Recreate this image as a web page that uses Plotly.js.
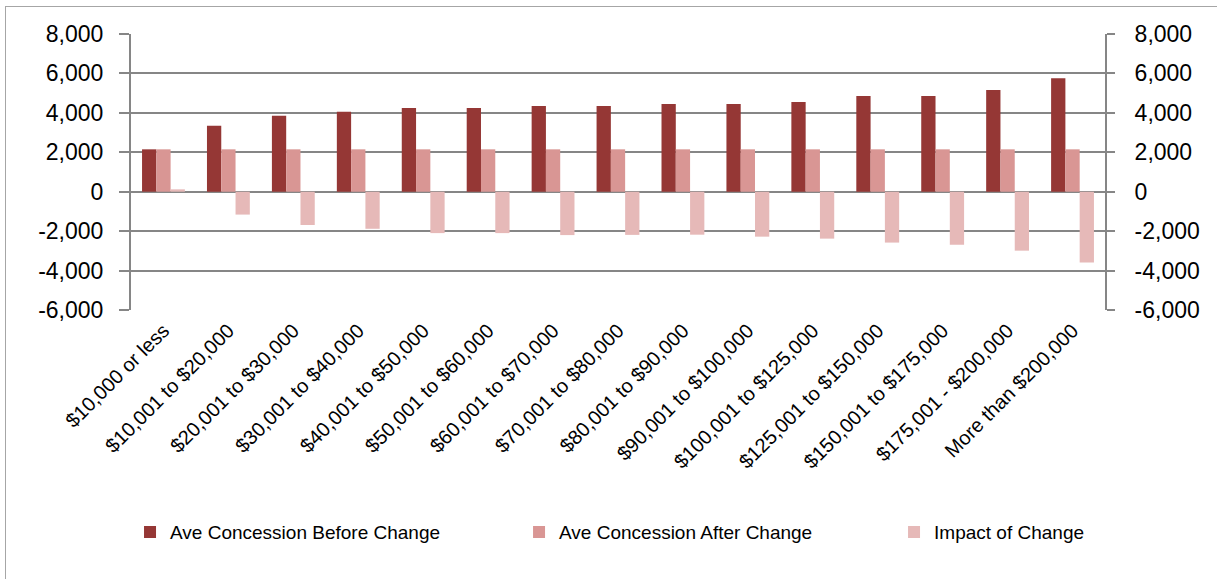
<!DOCTYPE html>
<html>
<head>
<meta charset="utf-8">
<script src="https://cdn.plot.ly/plotly-3.0.1.min.js"></script>
<style>
  html, body { margin: 0; padding: 0; background: #fff; }
  #wrap { position: relative; width: 1217px; height: 579px; overflow: hidden; }
  #chart { width: 1217px; height: 579px; }
  #frame { position: absolute; left: 5px; top: 6px; width: 1400px; height: 800px;
           border: 1.5px solid #a6a6a6; pointer-events: none; }
</style>
</head>
<body>
<div id="wrap">
  <div id="chart"></div>
  <div id="frame"></div>
</div>
<script>
const categories = [
  "$10,000 or less", "$10,001 to $20,000", "$20,001 to $30,000", "$30,001 to $40,000",
  "$40,001 to $50,000", "$50,001 to $60,000", "$60,001 to $70,000", "$70,001 to $80,000",
  "$80,001 to $90,000", "$90,001 to $100,000", "$100,001 to $125,000", "$125,001 to $150,000",
  "$150,001 to $175,000", "$175,001 - $200,000", "More than $200,000"
];
const beforeChange = [2150, 3350, 3850, 4050, 4250, 4250, 4350, 4350, 4450, 4450, 4550, 4860, 4860, 5160, 5760];
const afterChange  = [2150, 2150, 2150, 2150, 2150, 2150, 2150, 2150, 2150, 2150, 2150, 2150, 2150, 2150, 2150];
const impactChange = [120, -1160, -1690, -1880, -2100, -2100, -2200, -2190, -2180, -2280, -2380, -2580, -2690, -2990, -3590];
const seriesNames = ["Ave Concession Before Change", "Ave Concession After Change", "Impact of Change"];
const seriesColors = ["#953735", "#D99694", "#E6B9B8"];
const yTickVals = [-6000, -4000, -2000, 0, 2000, 4000, 6000, 8000];
const yTickText = yTickVals.map(v => v.toLocaleString("en-US"));

const FONT = "Liberation Sans, Arial, sans-serif";
const GRID = "#868686";
const legendIds = ["legend", "legend2", "legend3"];
const legendX = [-0.001, 0.3984, 0.7834];

const traces = [beforeChange, afterChange, impactChange].map((vals, i) => ({
  type: "bar",
  name: seriesNames[i],
  x: categories,
  y: vals,
  legend: legendIds[i],
  marker: { color: seriesColors[i], line: { width: 0 } },
  hoverinfo: "x+y+name"
}));

// invisible trace to carry the right-hand axis
traces.push({ type: "scatter", x: [categories[0]], y: [0], yaxis: "y2", mode: "markers",
  marker: { opacity: 0 }, showlegend: false, hoverinfo: "skip" });

const boundaryTicks = categories.slice(1).map((_, i) => i + 0.5);

const yRange = [-6000, 8000];
const layout = {
  width: 1217, height: 579,
  margin: { l: 131, r: 112, t: 34, b: 269, pad: 0 },
  paper_bgcolor: "#ffffff", plot_bgcolor: "#ffffff",
  font: { family: FONT, color: "#000000" },
  barmode: "group", bargap: 0.34, bargroupgap: 0,
  showlegend: true,
  xaxis: {
    type: "category", categoryorder: "array", categoryarray: categories,
    range: [-0.5, categories.length - 0.5],
    tickangle: -45, ticks: "", showgrid: false, showline: false, zeroline: false,
    ticklabelstandoff: 4,
    tickfont: { family: FONT, size: 20, color: "#000" }, automargin: false
  },
  xaxis2: {
    overlaying: "x", anchor: "free", position: 6 / 14, type: "linear",
    range: [-0.5, categories.length - 0.5], tickmode: "array", tickvals: boundaryTicks,
    showticklabels: false, ticks: "outside", ticklen: 5, tickwidth: 2, tickcolor: GRID,
    showgrid: false, showline: false, zeroline: false, fixedrange: true
  },
  yaxis: {
    range: yRange, tickmode: "array", tickvals: yTickVals, ticktext: yTickText,
    showgrid: true, gridcolor: GRID, gridwidth: 2,
    zeroline: true, zerolinecolor: GRID, zerolinewidth: 2,
    showline: true, linecolor: GRID, linewidth: 2,
    ticks: "outside", ticklen: 10, tickwidth: 2, tickcolor: GRID,
    ticklabelstandoff: 11,
    tickfont: { family: FONT, size: 23, color: "#000" }, automargin: false
  },
  yaxis2: {
    overlaying: "y", side: "right", anchor: "x", range: yRange,
    tickmode: "array", tickvals: yTickVals, ticktext: yTickText,
    showgrid: false, zeroline: false,
    showline: true, linecolor: GRID, linewidth: 2,
    ticks: "outside", ticklen: 8, tickwidth: 2, tickcolor: GRID,
    ticklabelstandoff: 15,
    tickfont: { family: FONT, size: 23, color: "#000" }, automargin: false
  }
};

legendIds.forEach((id, i) => {
  layout[id] = {
    orientation: "h", x: legendX[i], xanchor: "left", y: -0.805, yanchor: "middle",
    font: { family: FONT, size: 19, color: "#000" },
    itemwidth: 30, bgcolor: "rgba(0,0,0,0)"
  };
});

Plotly.newPlot("chart", traces, layout, { displayModeBar: false, staticPlot: true });
</script>
</body>
</html>
